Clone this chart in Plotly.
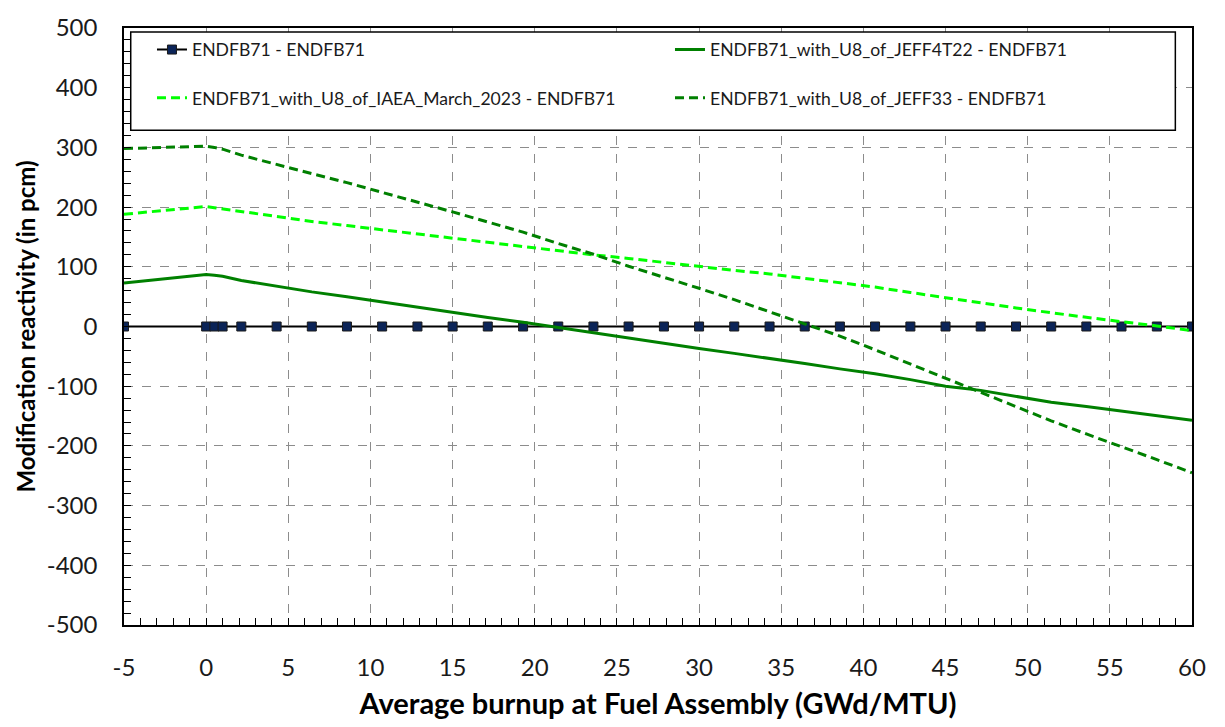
import plotly.graph_objects as go

# Burnup steps (GWd/MTU); -5 is the fresh-fuel reference point drawn left of zero
burnup = [-5, 0, 0.5, 1, 2.14, 4.29, 6.43, 8.57, 10.71, 12.86, 15, 17.14, 19.29,
          21.43, 23.57, 25.71, 27.86, 30, 32.14, 34.29, 36.43, 38.57, 40.71,
          42.86, 45, 47.14, 49.29, 51.43, 53.57, 55.71, 57.86, 60]

# Reactivity differences relative to ENDFB71 (pcm)
endfb71_ref = [0] * len(burnup)
jeff4t22 = [73, 87, 86, 84, 77, 67, 58, 50, 41, 32, 24, 15, 7,
            -2, -11, -20, -28, -37, -45, -53, -62, -71, -79,
            -89, -100, -107, -117, -127, -134, -142, -150, -157]
iaea_2023 = [188, 201, 199, 197, 192, 184, 176, 169, 162, 154, 147, 140, 133,
             126, 120, 114, 107, 100, 94, 88, 81, 74, 66,
             57, 48, 39, 31, 23, 15, 8, 1, -7]
jeff33 = [298, 302, 300, 297, 287, 271, 256, 241, 225, 209, 192, 175, 158,
          139, 121, 101, 83, 64, 45, 25, 5, -16, -39,
          -63, -87, -110, -135, -158, -180, -201, -223, -245]

series_names = [
    "ENDFB71 - ENDFB71",
    "ENDFB71_with_U8_of_JEFF4T22 - ENDFB71",
    "ENDFB71_with_U8_of_IAEA_March_2023 - ENDFB71",
    "ENDFB71_with_U8_of_JEFF33 - ENDFB71",
]

x_ticks = [-5, 0, 5, 10, 15, 20, 25, 30, 35, 40, 45, 50, 55, 60]
y_ticks = [-500, -400, -300, -200, -100, 0, 100, 200, 300, 400, 500]

FONT = "Lato"
dash = "9px,5px"

fig = go.Figure()
fig.add_trace(go.Scatter(
    x=burnup, y=endfb71_ref, name=series_names[0], mode="lines+markers",
    line=dict(color="black", width=2),
    marker=dict(symbol="square", size=9, color="#0b2458",
                line=dict(color="#1a1a1a", width=1)),
    legend="legend"))
fig.add_trace(go.Scatter(
    x=burnup, y=jeff4t22, name=series_names[1], mode="lines",
    line=dict(color="#008000", width=3), legend="legend"))
fig.add_trace(go.Scatter(
    x=burnup, y=iaea_2023, name=series_names[2], mode="lines",
    line=dict(color="#00ff00", width=3, dash=dash), legend="legend2"))
fig.add_trace(go.Scatter(
    x=burnup, y=jeff33, name=series_names[3], mode="lines",
    line=dict(color="#008000", width=3, dash=dash), legend="legend2"))

legend_common = dict(
    orientation="h", xanchor="left", yanchor="middle", x=0.0262,
    bgcolor="rgba(0,0,0,0)", borderwidth=0,
    font=dict(family=FONT, size=17.6, color="#1a1a1a"),
    entrywidth=473, entrywidthmode="pixels", itemwidth=30,
    traceorder="normal",
)

axis_common = dict(
    showline=True, linecolor="black", linewidth=1.5, mirror=True,
    ticks="inside", ticklen=7, tickwidth=1.3, tickcolor="black",
    showgrid=True, gridcolor="#8c8c8c", griddash="dash", gridwidth=1.2,
    zeroline=False,
    tickfont=dict(family=FONT, size=24, color="#1a1a1a"),
)

fig.update_layout(
    width=1225, height=727,
    margin=dict(l=124, r=33, t=19, b=100),
    paper_bgcolor="white", plot_bgcolor="white",
    showlegend=True,
    legend=dict(y=0.9638, **legend_common),
    legend2=dict(y=0.883, **legend_common),
    xaxis=dict(
        range=[-5, 60], tickvals=x_ticks, ticktext=[str(v) for v in x_ticks],
        minor=dict(dtick=1, ticks="inside", ticklen=7, tickcolor="black",
                   tickwidth=1.2, showgrid=False),
        ticklabelstandoff=20,
        title=dict(text="<b>Average burnup at Fuel Assembly (GWd/MTU)</b>",
                   font=dict(family=FONT, size=29, color="black"), standoff=14),
        **axis_common),
    yaxis=dict(
        range=[-500, 500], tickvals=y_ticks, ticktext=[str(v) for v in y_ticks],
        minor=dict(dtick=20, ticks="inside", ticklen=7, tickcolor="black",
                   tickwidth=1.2, showgrid=False),
        ticklabelstandoff=20,
        title=dict(text="<b>Modification reactivity (in pcm)</b>",
                   font=dict(family=FONT, size=24, color="black"), standoff=4),
        **axis_common),
    shapes=[dict(type="rect", xref="paper", yref="paper",
                 x0=0.0063, x1=0.9844, y0=0.8288, y1=0.9934,
                 fillcolor="white", line=dict(color="black", width=1.5),
                 layer="above")],
)

fig.write_html("out.html")
